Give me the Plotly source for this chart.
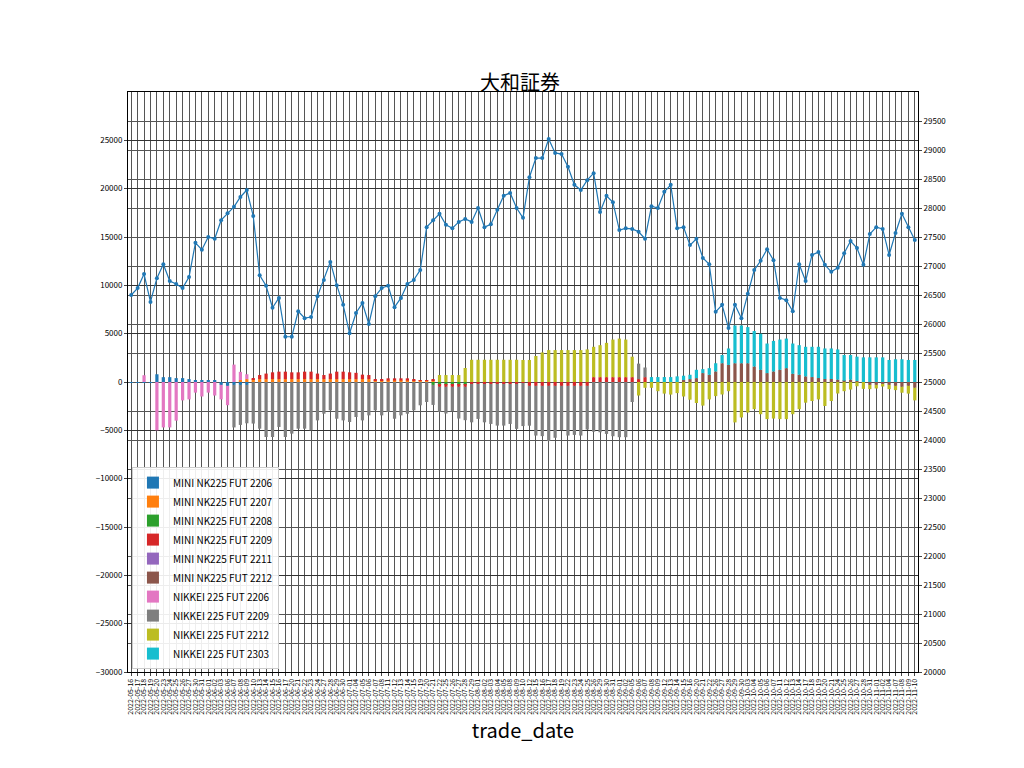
import pandas as pd
import plotly.graph_objects as go

holidays = ["2022-07-18", "2022-08-11", "2022-09-19", "2022-09-23", "2022-10-10", "2022-11-03"]
dates = [d.strftime("%Y-%m-%d") for d in pd.bdate_range("2022-05-16", "2022-11-10") if d.strftime("%Y-%m-%d") not in holidays]
N = len(dates)

price = [26500, 26620, 26860, 26380, 26790, 27030, 26740, 26690, 26620, 26810,
         27400, 27280, 27500, 27470, 27790, 27910, 28020, 28190, 28310, 27860,
         26840, 26660, 26280, 26450, 25780, 25780, 26220, 26100, 26120, 26480,
         26760, 27070, 26670, 26330, 25840, 26190, 26360, 26000, 26480, 26620,
         26660, 26290, 26450, 26690, 26760, 26930, 27670, 27790, 27900, 27710,
         27650, 27760, 27810, 27760, 28000, 27670, 27720, 27970, 28210, 28260,
         28000, 27830, 28530, 28860, 28860, 29190, 28950, 28930, 28710, 28400,
         28310, 28480, 28600, 27930, 28210, 28100, 27620, 27650, 27640, 27590,
         27470, 28030, 28000, 28280, 28400, 27650, 27670, 27360, 27470, 27140,
         27030, 26210, 26330, 25930, 26330, 26100, 26520, 26930, 27090, 27290,
         27100, 26450, 26410, 26220, 27030, 26740, 27190, 27240, 27020, 26900,
         26970, 27220, 27430, 27310, 27020, 27550, 27670, 27640, 27190, 27570,
         27900, 27670, 27450]

mini_2206 = [-100, -100, -100, -100, 800, 500, 500, 400, 400, 300, 200, 200, 200, 200, -300, -400,
             -300, -300, -300] + [0] * 104
mini_2207 = [0] * 17 + [200, 300] + [300] * 19 + [150] * 10 + [0] * 76
mini_2208 = [0] * 47 + [-300] * 6 + [0] * 70
mini_2209 = ([0] * 19 +
             [80, 420, 570, 700, 770, 770, 700, 700, 770, 770, 570, 420, 570, 770, 770, 700, 650, 460, 420,
              150, 150, 230, 230, 230, 230, 90, 20, 20, 90] +
             [-200] * 13 + [-100] + [-400] * 10 + [500] * 7 + [300, 500] + [0] * 42)
mini_2211 = [0] * 123
mini_2212 = ([0] * 86 +
             [200, 300, 400, 920, 750, 1090, 1940, 1770, 1940, 1940, 1940, 1600, 1260, 920, 1090, 1260,
              1430, 850, 750, 580, 510, 410, 310, 310, 240, 140, 240, 100, 0,
              -300, -300, -200, -300, -400, -500, -400, -600])
nk_2206 = [0, 0, 700, 0, -5000, -4700, -4700, -4000, -1900, -1800, -1100, -1500, -1100, -1400, -1500, -2000,
           1800, 850, 500] + [0] * 104
nk_2209 = ([0] * 16 +
           [-4400, -4140, -3970, -4300, -4830, -5690, -5690, -4650, -5690, -5340, -4830, -4830, -5000, -3970,
            -3280, -2930, -3800, -3970, -4140, -3620, -3970, -3450, -2930, -3450, -3100, -3800, -3450, -3280,
            -2930, -2410, -2070, -2070, -2590, -2760, -2520, -3280, -3450, -3970, -3620, -3970, -4140, -4310,
            -4310, -4140, -4650,
            -4460, -4120, -5140, -5200, -5710, -5370, -4590, -5140, -5070, -5140, -4520, -5140, -5200, -5370,
            -5610, -5710, -5710, -2070, 1600, 1000] + [0] * 42)
nk_2212 = ([0] * 48 + [720, 720, 720, 720, 1450] + [2300] * 8 +
           [2280, 2280, 2690, 3060, 3300, 3300, 3300, 3300, 3300, 3300, 3370, 3140, 3310, 3550, 3890, 3990,
            3890, 2120, -1400, -600,
            -600, -950, -1200, -1300, -1150, -1500, -1830, -2170, -2440, -1800,
            -1460, -1290, -950, -4180, -3670, -3160, -2810, -3330, -3840, -3780,
            -3840, -3840, -3330, -2810, -2140, -1970, -1800, -2480, -1970, -1190,
            -950, -780, -440, -710, -440, -370, -270, -440, -440, -610, -800, -1300])
nk_2303 = ([0] * 81 +
           [510, 510, 510, 510, 580, 450, 450, 860, 410, 680, 850, 850, 1700, 3910, 3910, 3740, 3670, 3740,
            3060, 3160, 3130, 3060, 3130, 3060, 3060, 3130, 3230, 3160, 3160, 3130, 2650, 2550, 2520, 2550,
            2550, 2550, 2550, 2280, 2350, 2350, 2280, 2280])

series = [("MINI NK225 FUT 2206", mini_2206, "#1f77b4"),
          ("MINI NK225 FUT 2207", mini_2207, "#ff7f0e"),
          ("MINI NK225 FUT 2208", mini_2208, "#2ca02c"),
          ("MINI NK225 FUT 2209", mini_2209, "#d62728"),
          ("MINI NK225 FUT 2211", mini_2211, "#9467bd"),
          ("MINI NK225 FUT 2212", mini_2212, "#8c564b"),
          ("NIKKEI 225 FUT 2206", nk_2206, "#e377c2"),
          ("NIKKEI 225 FUT 2209", nk_2209, "#7f7f7f"),
          ("NIKKEI 225 FUT 2212", nk_2212, "#bcbd22"),
          ("NIKKEI 225 FUT 2303", nk_2303, "#17becf")]

fig = go.Figure()
for name, vals, col in series:
    fig.add_trace(go.Bar(x=dates, y=vals[:N], name=name, marker=dict(color=col, line_width=0)))
fig.add_trace(go.Scatter(x=dates, y=price[:N], yaxis="y2", mode="lines+markers", showlegend=False,
                         line=dict(color="#1f77b4", width=1.2), marker=dict(size=4, color="#1f77b4")))

fig.update_layout(
    width=1024, height=768, barmode="relative", bargap=0.5,
    paper_bgcolor="white", plot_bgcolor="white",
    margin=dict(l=120, r=114, t=84, b=104),
    font=dict(family="Noto Sans CJK JP, DejaVu Sans", color="black"),
    title=dict(text="大和証券", x=0.5, xanchor="center", y=0.893, yanchor="bottom", font=dict(size=20)),
    xaxis=dict(type="category", range=[-0.5, N - 0.5], tickangle=-90, tickfont=dict(size=7, color="black"),
               dtick=1, showgrid=True, automargin=False,
               gridcolor="#555", gridwidth=1, ticks="outside", ticklen=3, showline=True, linecolor="black",
               mirror=True, title=dict(text="trade_date", font=dict(size=20), standoff=6)),
    yaxis=dict(range=[-30000, 30000], tickvals=list(range(-30000, 30000, 5000)), tickformat="d",
               tickfont=dict(size=8, color="black"), automargin=False,
               showgrid=True, gridcolor="#333", zeroline=False, ticks="outside", ticklen=3,
               showline=True, linecolor="black"),
    yaxis2=dict(range=[20000, 30000], tickvals=list(range(20000, 30000, 500)), tickformat="d",
                tickfont=dict(size=8, color="black"), automargin=False,
                overlaying="y", side="right", showgrid=True, gridcolor="#555", zeroline=False,
                ticks="outside", ticklen=3, showline=True, linecolor="black"),
    legend=dict(x=0.005, y=0.005, xanchor="left", yanchor="bottom", bgcolor="rgba(255,255,255,0.9)",
                bordercolor="#ccc", borderwidth=1, font=dict(size=10), traceorder="normal",
                tracegroupgap=0, itemwidth=30),
)
fig.write_html("out.html")
